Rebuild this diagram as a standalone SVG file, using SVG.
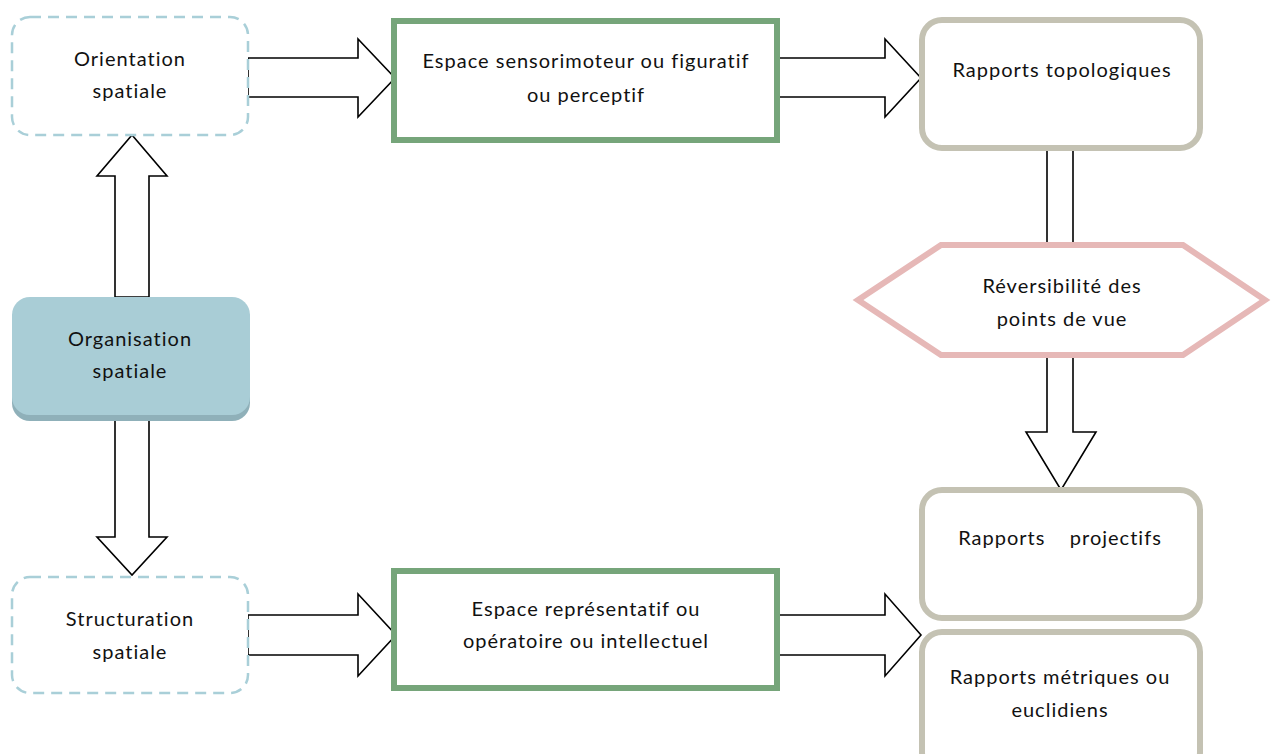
<svg xmlns="http://www.w3.org/2000/svg" width="1271" height="754" viewBox="0 0 1271 754">
<style>
.t{font-family:"Lato","Liberation Sans",sans-serif;font-size:20px;letter-spacing:1px;fill:#111;text-anchor:middle;white-space:pre}
.dash{fill:#fff;stroke:#a9cfd8;stroke-width:2.5;stroke-dasharray:11 7}
.green{fill:#fff;stroke:#76a57a;stroke-width:6}
.gray{fill:#fff;stroke:#c4c2b3;stroke-width:6}
.arr{fill:#fff;stroke:#000;stroke-width:1.6;stroke-linejoin:miter}
</style>
<rect width="1271" height="754" fill="#fff"/>
<g id="connectors">
<polygon class="arr" points="248,58 358,58 358,39 395,78 358,117 358,97 248,97"/>
<polygon class="arr" points="777,58 885,58 885,39 921,78 885,117 885,97 777,97"/>
<polygon class="arr" points="248,615 358,615 358,594 396,635 358,676 358,655 248,655"/>
<polygon class="arr" points="777,615 885,615 885,594 921,635 885,676 885,655 777,655"/>
<polygon class="arr" points="115,297 115,176 97,176 132,135 167,176 149,176 149,297"/>
<polygon class="arr" points="115,417 115,537 97,537 132,575 167,537 149,537 149,417"/>
<polygon class="arr" points="1047,148 1073,148 1073,432 1096,432 1061,490 1026,432 1047,432"/>
</g>
<g id="orientation">
<rect class="dash" x="12" y="17" width="236" height="118" rx="18"/>
<text class="t" x="130" y="66">Orientation</text>
<text class="t" x="130" y="98">spatiale</text>
</g>
<g id="organisation">
<rect x="12" y="301" width="238" height="120" rx="18" fill="#8fb0b9"/>
<rect x="12" y="297" width="238" height="118" rx="18" fill="#a9cdd6"/>
<text class="t" x="130" y="346">Organisation</text>
<text class="t" x="130" y="378">spatiale</text>
</g>
<g id="structuration">
<rect class="dash" x="12" y="577" width="236" height="116" rx="18"/>
<text class="t" x="130" y="626">Structuration</text>
<text class="t" x="130" y="659">spatiale</text>
</g>
<g id="sensorimoteur">
<rect class="green" x="394" y="21" width="383" height="119"/>
<text class="t" x="586" y="68">Espace sensorimoteur ou figuratif</text>
<text class="t" x="586" y="102">ou perceptif</text>
</g>
<g id="representatif">
<rect class="green" x="394" y="571" width="383" height="117"/>
<text class="t" x="586" y="616">Espace représentatif ou</text>
<text class="t" x="586" y="648">opératoire ou intellectuel</text>
</g>
<g id="topologiques">
<rect class="gray" x="922" y="20" width="278" height="128" rx="20"/>
<text class="t" x="1062" y="77">Rapports topologiques</text>
</g>
<g id="reversibilite">
<polygon points="858,300 941,245 1183,245 1265,300 1183,355 941,355" fill="#fff" stroke="#e6b8b7" stroke-width="6"/>
<text class="t" x="1062" y="293">Réversibilité des</text>
<text class="t" x="1062" y="326">points de vue</text>
</g>
<g id="projectifs">
<rect class="gray" x="922" y="490" width="278" height="128" rx="20"/>
<text class="t" x="1060" y="545">Rapports    projectifs</text>
</g>
<g id="metriques">
<rect class="gray" x="922" y="632" width="278" height="140" rx="20"/>
<text class="t" x="1060" y="684">Rapports métriques ou</text>
<text class="t" x="1060" y="717">euclidiens</text>
</g>
</svg>
